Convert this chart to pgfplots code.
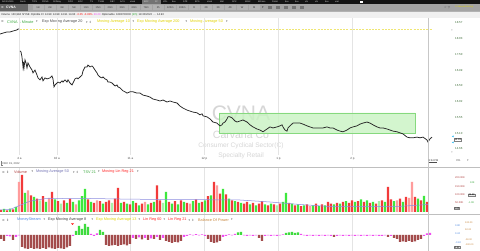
\documentclass[border=0pt]{standalone}
\usepackage{pgfplots}
\pgfplotsset{compat=1.18}
\usepackage{fontspec}
\setmainfont{Liberation Sans}
\newfontfamily\sym{DejaVu Sans}
\newcommand\fs[1]{\fontsize{#1}{#1}\selectfont}
\definecolor{topblack}{HTML}{141414}
\definecolor{row2}{HTML}{A4A4A4}
\definecolor{row3}{HTML}{F0F0F0}
\definecolor{gridc}{HTML}{E4E4E4}
\definecolor{vred}{HTML}{F23A3A}
\definecolor{vgreen}{HTML}{3DE83D}
\definecolor{vpink}{HTML}{FF9C9C}
\definecolor{vlgreen}{HTML}{A6F2A6}
\definecolor{mabrown}{HTML}{A34C4C}
\definecolor{mmag}{HTML}{F04CF0}
\definecolor{mgreen}{HTML}{3EDB3E}
\definecolor{ylw}{HTML}{E2D200}
\definecolor{lgreen}{HTML}{38A83C}
\definecolor{tickg}{HTML}{3F6E3A}
\definecolor{wm}{HTML}{D6D6D6}
\definecolor{boxfill}{HTML}{C9F3C2}
\definecolor{boxdraw}{HTML}{86D97E}
\definecolor{malav}{HTML}{8C8CE0}
\definecolor{volred}{HTML}{B04040}
\definecolor{msblue}{HTML}{4A86E0}
\definecolor{bopor}{HTML}{C8863C}
\pgfplotsset{panel/.style={scale only axis, width=452pt, xmin=0, xmax=452,
  anchor=south west,
  axis line style={draw=none}, tick style={draw=none},
  xtick={19.5,57,130.5,204.5,278.5,352.5}, xmajorgrids,
  grid style={draw=gridc, line width=0.4pt},
  yticklabel pos=right,
  /pgf/number format/assume math mode=true,
  yticklabel style={font=\fs{2.9}, text=tickg, anchor=west, inner sep=0pt, xshift=3pt},
  xticklabel style={font=\fs{3}, text=black!70, anchor=north, inner sep=0pt, yshift=-2.2pt}},
  vb/.style={ybar, bar width=2.2, bar shift=0pt, draw=none, fill=#1}}
\begin{document}
\begin{tikzpicture}[x=1pt,y=1pt]
\useasboundingbox (0,0) rectangle (480,-251);
\fill[white] (0,0) rectangle (480,-251);
% ---- top toolbar rows
\fill[topblack] (0,0) rectangle (480,-3.6);
\fill[black!55] (142,0) rectangle (161,-3.6);
\foreach \x/\t in {2/ADVISORS,20/Alerts,32/TIPS,42/PRNG,53/SIXMay,68/DPO,78/KOC,90/TS,98/TSGB,110/DBY,120/ACS,130/stock,144/BOF,155/2P,163/VOL,172/box,183/ATR,195/EPS,207/stock,220/Mkt,232/SPX,245/MSIX,258/BDmos,272/Patrol,285/box,295/box,305/vlk,315/vlk,325/box,335/ural}
  \node[anchor=west, inner sep=0pt, font=\fs{2.2}, text=white!85!black] at (\x,-1.8) {\t};
\fill[white] (360,-0.6) rectangle (362.5,-3);
\fill[row2] (0,-3.6) rectangle (480,-11);
\fill[black!60] (0,-3.6) rectangle (28,-11);
\node[anchor=west, inner sep=0pt, font=\fs{3.2}\sym, text=white] at (1,-7.3) {≡};
\node[anchor=west, inner sep=0pt, font=\fs{3.4}\bfseries, text=white] at (6,-7.3) {CVNA};
\foreach \t [count=\i] in {1m,2m,3m,5m,10m,15m,20m,30m,60m,78m,2h,120m,195m,D,2D,3D,4D,W,M}
  {\fill[black!30] (21+12*\i,-4.6) rectangle (31.5+12*\i,-10);
   \node[inner sep=0pt, font=\fs{2.6}, text=black!80] at (26.2+12*\i,-7.3) {\t};}
\node[anchor=west, inner sep=0pt, font=\fs{3}\sym, text=black!80] at (262,-7.3) {▾};
\foreach \x in {268,276,284,292,300}
  \fill[black!55] (\x,-5.6) rectangle (\x+4,-9);
\node[anchor=west, inner sep=0pt, font=\fs{3}\sym, text=black!70] at (444,-7.3) {☆ ▽};
\node[anchor=west, inner sep=0pt, font=\fs{2.2}, text=ylw] at (455,-7.3) {Ys Moved Alerting};
\fill[row3] (0,-11.5) rectangle (480,-18);
\draw[black!30, line width=0.3pt] (0,-11.3) -- (480,-11.3);
\node[anchor=west, inner sep=0pt, font=\fs{2.7}, text=black!85] at (1,-14.8)
 {Volume\, 130,984\, NYSE\, Optnble Cl\, 14.98\, 14.98\, 14.91\, 14.93\, \textcolor{red}{-0.05\, -0.33\%}\, \textcolor{mmag}{49.29}\, Optionable\, 1683760000\, \textcolor{lgreen}{[d/h]}\, 11/30/2022\, \dots\, 14.93};
% ---- price legend
\node[anchor=west, inner sep=0pt, font=\fs{3.2}\sym, text=black!60] at (1,-22) {≡};
\node[anchor=west, inner sep=0pt, font=\fs{3.8}, text=lgreen] at (7,-22) {CVNA 1 Minute};
\node[anchor=west, inner sep=0pt, font=\fs{3}\sym, text=black!60] at (36,-22) {▾};
\node[anchor=west, inner sep=0pt, font=\fs{3.8}, text=black!70] at (42,-22) {Exp Moving Average 20};
\node[anchor=west, inner sep=0pt, font=\fs{3}\sym, text=black!60] at (86,-22) {▾ \,⇕};
\node[anchor=west, inner sep=0pt, font=\fs{3.8}, text=ylw] at (97,-22) {Moving Average 10};
\node[anchor=west, inner sep=0pt, font=\fs{3}\sym, text=black!60] at (132.5,-22) {▾};
\node[anchor=west, inner sep=0pt, font=\fs{3.8}, text=ylw] at (137,-22) {Exp Moving Average 200};
\node[anchor=west, inner sep=0pt, font=\fs{3}\sym, text=black!60] at (185.5,-22) {▾};
\node[anchor=west, inner sep=0pt, font=\fs{3.8}, text=ylw] at (190,-22) {Moving Average 50};
\node[anchor=west, inner sep=0pt, font=\fs{3}\sym, text=black!60] at (226,-22) {▾};
% ---- watermark
\node[inner sep=0pt, font=\fs{21}, text=wm] at (241,-113.5) {CVNA};
\node[inner sep=0pt, font=\fs{10.5}, text=wm] at (241,-135) {Carvana Co};
\node[inner sep=0pt, font=\fs{6.6}, text=wm] at (241,-146) {Consumer Cyclical Sector(C)};
\node[inner sep=0pt, font=\fs{6.6}, text=wm] at (241,-156) {Specialty Retail};
% ---- price panel
\begin{axis}[panel, at={(0pt,-155pt)}, height=137pt,
  ymode=log, ymin=14.496, ymax=18.745,
  xticklabels={4 a,10 a,11 a,12 p,1 p,2 p},
  ytick={14.66,15.10,15.55,16.02,16.50,16.99,17.50,18.03,18.57},
  yticklabels={14.66,15.10,15.55,16.02,16.50,16.99,17.50,18.03,18.57}]
\addplot[fill=boxfill, draw=boxdraw, line width=0.5pt, fill opacity=0.8]
  coordinates {(219,15.11)(415,15.11)(415,15.685)(219,15.685)(219,15.11)};
\addplot[ylw!55, dash pattern=on 2pt off 1.2pt, line width=0.4pt]
  coordinates {(20,18.36)(432,18.36)};
\addplot[black!85, line width=0.75pt]
  coordinates {(0,18.19)(3,18.22)(7,18.26)(10,18.26)(13,18.29)(17,18.33)(18,18.36)(19,18.36)};
\addplot[black!85, line width=0.75pt] coordinates {
(20,17.62)(21,17.59)(22,17.42)(23,17.10)(23.5,17.26)(24,17.07)(25,17.33)(26,17.23)(27,17.07)(28,17.23)
(30,17.10)(32,17.00)(33,16.91)(35,17.00)(37,16.84)(38,16.75)(40,16.69)(42,16.78)(43,16.66)(45,16.75)
(47,16.72)(50,16.75)(52,16.81)(53,16.72)(54,16.47)(55,16.53)(57,16.59)(58,16.62)(60,16.59)(62,16.66)
(63,16.62)(65,16.69)(67,16.62)(68,16.69)(70,16.59)(72,16.53)(73,16.59)(75,16.72)(77,16.75)(78,16.72)
(80,16.78)(82,16.84)(83,16.97)(85,17.10)(87,17.10)(88,17.16)(90,17.10)(92,17.13)(93,17.10)(95,17.00)
(97,16.91)(98,16.84)(100,16.78)(102,16.75)(103,16.78)(105,16.72)(107,16.69)(108,16.62)(110,16.62)
(112,16.59)(113,16.56)(115,16.50)(117,16.53)(118,16.47)(120,16.44)(122,16.38)(123,16.35)(125,16.32)
(127,16.28)(130,16.32)(133,16.32)(137,16.28)(140,16.28)(143,16.22)(147,16.19)(150,16.16)(153,16.10)
(157,16.07)(160,16.04)(163,16.07)(167,16.01)(170,16.04)(173,16.01)(177,15.98)(180,15.89)(183,15.83)
(187,15.77)(190,15.74)(193,15.71)(197,15.69)(200,15.63)(202,15.66)(203,15.60)(207,15.57)(210,15.51)
(213,15.42)(217,15.39)(218,15.36)(220,15.31)(222,15.34)(223,15.39)(225,15.42)(227,15.51)(228,15.57)
(230,15.57)(232,15.54)(233,15.51)(235,15.45)(237,15.42)(240,15.45)(243,15.48)(247,15.42)(250,15.34)
(253,15.28)(257,15.22)(260,15.19)(263,15.14)(267,15.22)(270,15.28)(273,15.25)(277,15.28)(280,15.31)
(282,15.34)(283,15.28)(285,15.19)(287,15.16)(288,15.25)(290,15.31)(293,15.39)(297,15.39)(300,15.39)
(303,15.36)(307,15.31)(310,15.28)(313,15.25)(317,15.25)(320,15.25)(323,15.25)(327,15.28)(330,15.25)
(333,15.25)(337,15.19)(340,15.16)(343,15.14)(347,15.19)(350,15.25)(353,15.28)(357,15.31)(360,15.36)
(363,15.39)(367,15.42)(370,15.39)(373,15.34)(377,15.28)(380,15.25)(383,15.25)(387,15.22)(390,15.19)
(393,15.16)(397,15.14)(400,15.11)(403,15.08)(407,14.99)(410,14.97)(413,14.97)(417,14.99)(420,14.97)
(423,14.99)(427,14.91)(428,14.85)(430,14.94)(432,14.99)};
\end{axis}
% ---- volume panel
\begin{axis}[panel, at={(0pt,-214pt)}, height=47pt, ymin=-12, ymax=270,
  xticklabels={}, ytick=\empty]
\addplot[vb=vred] coordinates {(1,12)(7,10)(13,15)(22,222)(31,100)(37,80)(43,95)(52,120)(58,65)(64,70)(70,80)(88,75)(94,55)(100,65)(106,60)(109,70)(115,80)(118,144)(124,60)(130,45)(136,55)(142,50)(151,55)(157,160)(160,70)(169,60)(175,65)(181,70)(187,55)(196,75)(202,60)(208,95)(214,180)(220,110)(226,105)(232,70)(238,60)(244,50)(247,60)(253,55)(259,50)(262,65)(268,40)(274,45)(280,50)(289,55)(295,40)(301,35)(307,45)(316,50)(322,45)(328,60)(331,50)(337,55)(343,60)(349,55)(352,70)(358,65)(364,60)(370,55)(376,50)(382,70)(388,150)(391,75)(400,80)(406,90)(415,90)(421,70)(427,60)};
\addplot[vb=vgreen] coordinates {(4,18)(10,20)(16,30)(25,114)(34,90)(46,60)(55,75)(67,55)(73,60)(79,70)(82,95)(85,138)(91,60)(103,50)(121,55)(127,50)(133,65)(139,40)(148,45)(154,60)(166,120)(172,50)(178,45)(184,60)(193,65)(199,55)(205,70)(211,100)(223,138)(229,80)(235,65)(241,55)(250,45)(256,40)(265,45)(271,50)(283,60)(286,114)(292,50)(298,45)(304,40)(313,40)(319,35)(325,40)(334,45)(340,50)(346,65)(355,60)(361,75)(367,70)(373,60)(385,60)(394,65)(403,60)(418,80)(424,96)};
\addplot[vb=vpink] coordinates {(19,180)(28,130)(49,85)(76,45)(97,70)(145,60)(190,50)(217,160)(310,35)(397,70)(409,85)(412,180)};
\addplot[vb=vlgreen] coordinates {(40,70)(61,50)(112,55)(163,55)(277,40)(379,65)};
\addplot[malav, line width=0.5pt] coordinates {(0,12)(10,15)(20,40)(30,65)(45,80)(80,82)(120,78)(160,75)(200,74)(240,72)(270,60)(300,45)(330,33)(360,32)(400,34)(428,45)};
\end{axis}
% ---- money stream panel
\begin{axis}[panel, at={(0pt,-251pt)}, height=37pt, ymin=-160, ymax=210,
  xticklabels={}, ytick=\empty]
\addplot[vb=mabrown] coordinates {(1,-40)(4,-60)(13,-50)(22,-120)(25,-135)(28,-140)(31,-130)(34,-140)(37,-135)(40,-140)(43,-130)(46,-140)(49,-125)(52,-135)(55,-140)(58,-130)(61,-135)(64,-140)(67,-125)(70,-110)(106,-100)(109,-110)(112,-105)(115,-100)(118,-110)(121,-100)(124,-95)(127,-105)(130,-90)(136,-40)(142,-45)(148,-50)(154,-40)(160,-50)(166,-60)(169,-70)(172,-80)(175,-70)(178,-75)(181,-60)(208,-40)(211,-70)(214,-80)(217,-75)(220,-60)(259,-30)(262,-60)(334,-20)(388,-20)(394,-30)(397,-40)(400,-70)(403,-65)(406,-70)(409,-60)(412,-70)(415,-65)(418,-50)(421,-40)};
\addplot[vb=mgreen] coordinates {(76,40)(79,90)(82,60)(85,110)(88,80)(100,50)(103,30)(238,25)(241,30)(286,20)(289,25)(292,30)(295,20)(298,25)};
\addplot[vb=mmag] coordinates {(7,-10)(10,-15)(16,-20)(19,-5)(73,-10)(91,10)(94,-8)(97,15)(133,-30)(139,-25)(145,-30)(151,-35)(157,-20)(163,-30)(184,-20)(187,-10)(190,5)(193,-5)(196,8)(199,-5)(202,5)(205,-10)(223,-20)(226,-10)(229,5)(232,-5)(235,10)(244,-5)(247,-8)(250,-5)(253,-10)(256,-5)(265,-10)(268,-5)(271,-8)(274,-5)(277,-10)(280,-5)(283,5)(301,10)(304,-5)(307,-8)(310,-5)(313,-10)(316,-5)(319,-8)(322,-5)(325,-10)(328,-5)(331,-8)(337,-10)(340,-5)(343,-8)(346,-5)(349,-10)(352,-5)(355,-8)(358,-5)(361,-10)(364,-5)(367,-8)(370,-5)(373,-10)(376,-5)(379,-8)(382,-10)(385,-5)(391,-10)(424,-10)(427,15)(430,20)};
\end{axis}
% ---- separators, time line, misc labels
\draw[black!25, line width=0.5pt] (0,-167) -- (480,-167);
\draw[black!25, line width=0.5pt] (0,-214) -- (480,-214);
\draw[black!22, line width=0.4pt] (428,-18) -- (428,-251);
\node[anchor=west, inner sep=0pt, font=\fs{2.7}, text=black!70] at (2.5,-163.8) {DEC 19, 2022};
\draw[black!50, line width=0.3pt] (1.5,-161.5) -- (1.5,-165.5) -- (3,-165.5);
\node[anchor=west, inner sep=0pt, font=\fs{2.6}, text=black!80] at (428.5,-160.5) {3:54 PM};
\draw[black!70, line width=0.6pt] (428.5,-162.6) -- (437,-162.6);
\node[anchor=west, inner sep=0pt, font=\fs{2.8}, text=black!70] at (456,-161) {3\%};
\node[anchor=west, inner sep=0pt, font=\fs{3}\sym, text=black!50] at (467,-161) {▾};
\node[inner sep=0pt, font=\fs{3.2}, text=black!45] at (452,-31) {+};
\node[inner sep=0pt, font=\fs{3.2}, text=black!45] at (452,-153) {+};
\node[anchor=west, inner sep=0.3pt, draw=black!50, fill=white, font=\fs{2.6}] at (454,-139.5) {14.93};
\node[anchor=east, inner sep=0pt, font=\fs{2.4}\sym, text=cyan] at (454,-136.5) {◀};
\node[anchor=east, inner sep=0pt, font=\fs{2.4}\sym, text=cyan] at (454,-142.5) {◀};
% volume legend
\node[anchor=west, inner sep=0pt, font=\fs{3.2}\sym, text=black!60] at (2,-172) {≡ \,⇕};
\node[anchor=west, inner sep=0pt, font=\fs{3.8}, text=volred] at (14,-172) {Volume};
\node[anchor=west, inner sep=0pt, font=\fs{3}\sym, text=black!60] at (31.5,-172) {▾};
\node[anchor=west, inner sep=0pt, font=\fs{3.8}, text=malav!80!black] at (36,-172) {Moving Average 50};
\node[anchor=west, inner sep=0pt, font=\fs{3}\sym, text=black!60] at (73,-172) {▾ \,⇕};
\node[anchor=west, inner sep=0pt, font=\fs{3.8}, text=lgreen] at (83,-172) {TSV 21};
\node[anchor=west, inner sep=0pt, font=\fs{3}\sym, text=black!60] at (98,-172) {▾};
\node[anchor=west, inner sep=0pt, font=\fs{3.8}, text=red!85] at (102,-172) {Moving Lin Reg 21};
\node[anchor=west, inner sep=0pt, font=\fs{3}\sym, text=black!60] at (137,-172) {▾};
% volume right labels
\foreach \y/\t in {178/200.00K,187/150.00K,195/100.00K,203/50.00K}
  \node[anchor=west, inner sep=0pt, font=\fs{2.6}, text=volred] at (455,-\y) {\t};
\node[anchor=west, inner sep=0.3pt, draw=black!50, fill=black!8, font=\fs{2.5}] at (454,-208.5) {0.00};
\node[anchor=west, inner sep=0pt, font=\fs{2.5}, text=lgreen] at (470,-183) {10K};
\node[anchor=west, inner sep=0.3pt, draw=black!50, fill=black!8, font=\fs{2.4}] at (468,-195) {25.6K};
\node[anchor=west, inner sep=0pt, font=\fs{2.5}, text=lgreen] at (468,-203) {-1.0K};
% money legend
\node[anchor=west, inner sep=0pt, font=\fs{3.2}\sym, text=black!60] at (2,-220) {≡ \,⇕};
\node[anchor=west, inner sep=0pt, font=\fs{3.8}, text=msblue] at (17,-220) {MoneyStream};
\node[anchor=west, inner sep=0pt, font=\fs{3}\sym, text=black!60] at (43.5,-220) {▾};
\node[anchor=west, inner sep=0pt, font=\fs{3.8}, text=black!75] at (48,-220) {Exp Moving Average 8};
\node[anchor=west, inner sep=0pt, font=\fs{3}\sym, text=black!60] at (91.5,-220) {▾};
\node[anchor=west, inner sep=0pt, font=\fs{3.8}, text=ylw] at (96,-220) {Exp Moving Average 13};
\node[anchor=west, inner sep=0pt, font=\fs{3}\sym, text=black!60] at (138.5,-220) {▾};
\node[anchor=west, inner sep=0pt, font=\fs{3.8}, text=red!85] at (143,-220) {Lin Reg 60};
\node[anchor=west, inner sep=0pt, font=\fs{3}\sym, text=black!60] at (163.5,-220) {▾};
\node[anchor=west, inner sep=0pt, font=\fs{3.8}, text=red!85] at (168,-220) {Lin Reg 21};
\node[anchor=west, inner sep=0pt, font=\fs{3}\sym, text=black!60] at (188.5,-220) {▾ \,⇕};
\node[anchor=west, inner sep=0pt, font=\fs{3.8}, text=bopor] at (198,-220) {Balance Of Power};
\node[anchor=west, inner sep=0pt, font=\fs{3}\sym, text=black!60] at (231,-220) {▾};
\fill[red] (71,-223.3) -- (74,-223.3) -- (72.5,-225) -- cycle;
% money right labels
\foreach \y/\t in {226/0.80,234/0.24,243/-0.40}
  \node[anchor=west, inner sep=0pt, font=\fs{2.5}, text=msblue] at (455,-\y) {\t};
\node[anchor=west, inner sep=0.3pt, draw=black!50, fill=black!8, font=\fs{2.4}] at (453.5,-247.5) {-0.52};
\foreach \y/\t in {223/100.00,230/50.00,240/-50.00,245/-100.00}
  \node[anchor=west, inner sep=0pt, font=\fs{2.4}, text=bopor] at (465,-\y) {\t};
\end{tikzpicture}
\end{document}
